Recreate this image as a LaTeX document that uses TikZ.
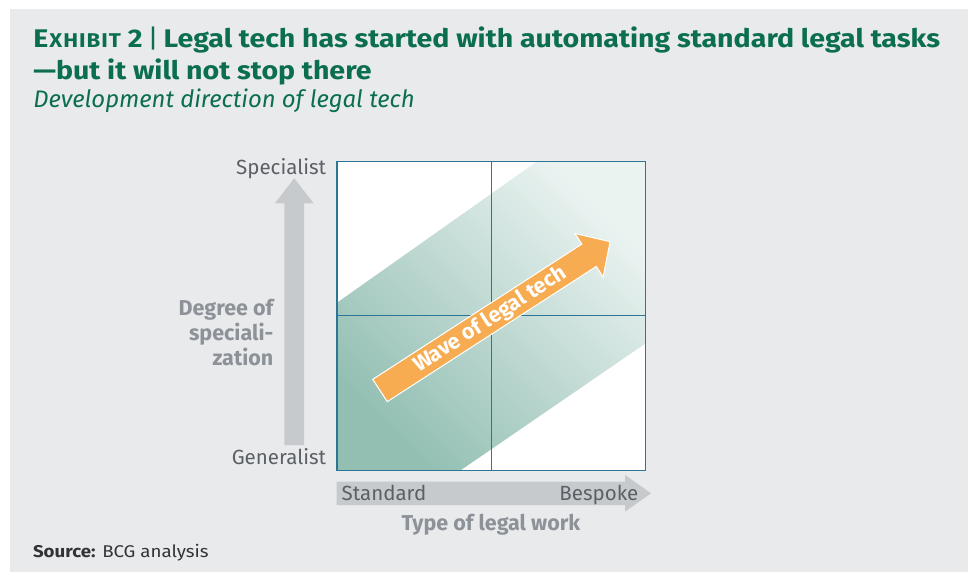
\documentclass[tikz,border=0pt]{standalone}
\usepackage{fontspec}
\usepackage{graphicx}
\setmainfont{Fira Sans}
\usetikzlibrary{calc}
\definecolor{bg}{HTML}{E9EAEC}
\definecolor{ttl}{HTML}{0B6E4F}
\definecolor{gridc}{HTML}{2D7595}
\definecolor{bandDark}{HTML}{93BFB3}
\definecolor{bandLight}{HTML}{EBF3F1}
\definecolor{wave}{HTML}{F7AC52}
\definecolor{axisgrey}{HTML}{C6CACD}
\definecolor{axislbl}{HTML}{8C9298}
\definecolor{ticklbl}{HTML}{5B6066}
\definecolor{srcc}{HTML}{333333}
\tikzset{
  txt/.style={inner sep=0pt, outer sep=0pt},
  ticktext/.style={txt, text=ticklbl, font=\fontsize{20.5}{24}\selectfont},
  axistext/.style={txt, text=axislbl, font=\bfseries\fontsize{21.5}{25}\selectfont},
  titletext/.style={txt, anchor=base west, text=ttl, font=\bfseries\fontsize{25.5}{28}\selectfont},
  gridline/.style={draw=gridc, line width=1.3pt},
  greyarrow/.style={fill=axisgrey},
}
\newcommand{\sck}{\kern0.9pt}
\begin{document}
\begin{tikzpicture}[x=1pt,y=-1pt]
\useasboundingbox (0,0) rectangle (968,572);
\fill[bg] (10,9) rectangle (968,572);

% title
\node[titletext] (title1) at (33.3,47.3)
  {\scalebox{1.12}[1]{E{\fontsize{19.9}{28}\selectfont\sck X\sck H\sck I\sck B\sck I\sck T} 2\,{\mdseries|}\,Legal tech has started with automating standard legal tasks}};
\node[titletext] (title2) at (33.3,80)
  {\scalebox{1.12}[1]{\textemdash but it will not stop there}};
\node[txt, anchor=base west, text=ttl, font=\itshape\fontsize{23.9}{26}\selectfont] (subtitle) at (33.3,107.3)
  {Development direction of legal tech};

% grey axis arrows
\fill[greyarrow] (284.3,445) -- (284.3,203.3) -- (275,203.3) -- (294.2,178.3) -- (313.7,203.3) -- (304,203.3) -- (304,445) -- cycle;
\fill[greyarrow] (336.7,481.7) -- (625,481.7) -- (625,475) -- (651,493.3) -- (625,511.7) -- (625,505) -- (336.7,505) -- cycle;

% quadrant box
\coordinate (bl) at (337,470.7);
\coordinate (tr) at (645.7,161.7);
\fill[white] (bl) rectangle (tr);
\shade[top color=bandLight, bottom color=bandDark, shading angle=-45]
  (337,302.7) -- (536.7,161.7) -- (645.7,161.7) -- (645.7,343.3) -- (460,470.7) -- (337,470.7) -- cycle;
\draw[gridline] (bl) rectangle (tr);
\draw[gridline] (491.3,161.7) -- (491.3,470.7);
\draw[gridline] (337,315.7) -- (645.7,315.7);

% wave arrow
\begin{scope}[shift={(380,390.5)}, rotate=32.9]
  \filldraw[fill=wave, draw=white, line width=1pt]
    (0,-13.3) -- (249,-13.3) -- (249,-25.9) -- (274,0) -- (249,25.9) -- (249,13.3) -- (0,13.3) -- cycle;
  \node[txt, text=white, rotate=32.9, font=\bfseries\fontsize{21.5}{22}\selectfont] (wave) at (131,0.5) {Wave of legal tech};
\end{scope}

% axis labels
\node[ticktext, anchor=base east] (spec) at (326,175) {Specialist};
\node[ticktext, anchor=base east] (gen) at (326,464.3) {Generalist};
\node[axistext, anchor=base east, align=right] (deg) at (273.3,365) {Degree of\\speciali-\\zation};
\node[ticktext, anchor=base west] (std) at (341.7,500) {Standard};
\node[ticktext, anchor=base east] (besp) at (638.3,500) {Bespoke};
\node[axistext, anchor=base] (type) at (491,530.7) {Type of legal work};

% source
\node[txt, anchor=base west, text=srcc, font=\fontsize{17}{19}\selectfont] (src) at (33,557.3) {\scalebox{1.1}[1]{\textbf{Source:} BCG analysis}};
\end{tikzpicture}
\end{document}
